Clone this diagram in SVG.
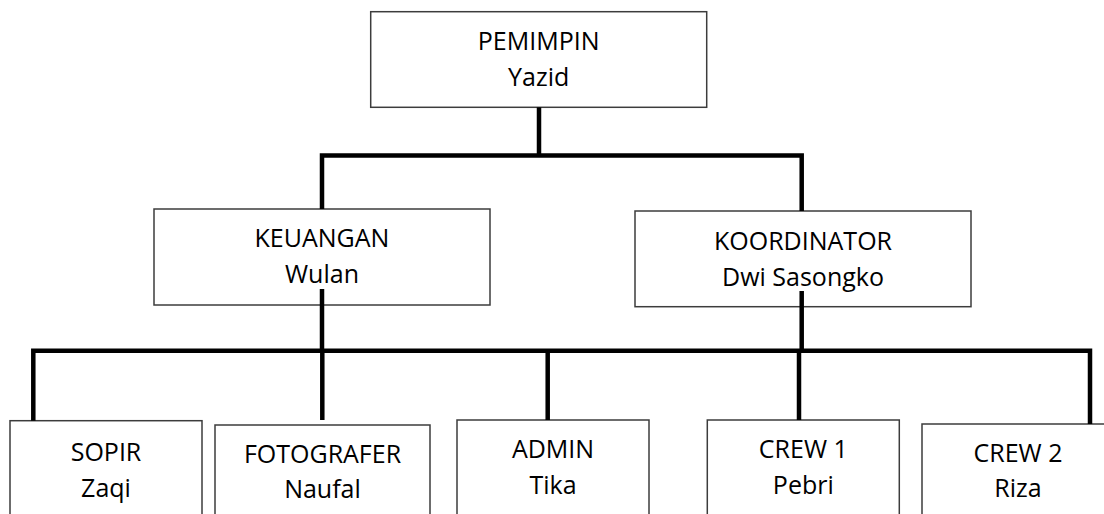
<svg xmlns="http://www.w3.org/2000/svg" width="1104" height="514" viewBox="0 0 1104 514">
<style>
.box{fill:#ffffff;stroke:#3c3c3c;stroke-width:1.5}
.t{font-family:"Open Sans","Noto Sans",sans-serif;font-size:25px;fill:#000000;text-anchor:middle}
.c{fill:none;stroke:#000000;stroke-width:4.5;stroke-linejoin:miter;stroke-linecap:butt}
</style>
<rect width="1104" height="514" fill="#ffffff"/>
<g id="pemimpin"><rect class="box" x="370.7" y="11.7" width="336" height="95.6"/><text class="t" x="538.7" y="50">PEMIMPIN</text><text class="t" x="538.7" y="86">Yazid</text></g>
<g id="keuangan"><rect class="box" x="154" y="209" width="336" height="96"/><text class="t" x="322" y="246.7">KEUANGAN</text><text class="t" x="322" y="282.7">Wulan</text></g>
<g id="koordinator"><rect class="box" x="635" y="211" width="336" height="95.7"/><text class="t" x="803" y="250">KOORDINATOR</text><text class="t" x="803" y="285.5">Dwi Sasongko</text></g>
<g id="sopir"><rect class="box" x="10" y="420.7" width="192" height="100"/><text class="t" x="106" y="460.7">SOPIR</text><text class="t" x="106" y="496.7">Zaqi</text></g>
<g id="fotografer"><rect class="box" x="215" y="425" width="215" height="100"/><text class="t" x="322.5" y="463.3">FOTOGRAFER</text><text class="t" x="322.5" y="498.3">Naufal</text></g>
<g id="admin"><rect class="box" x="457" y="420" width="192" height="100"/><text class="t" x="553" y="457.7">ADMIN</text><text class="t" x="553" y="494">Tika</text></g>
<g id="crew1"><rect class="box" x="707.3" y="420" width="192" height="100"/><text class="t" x="803.3" y="458.3">CREW 1</text><text class="t" x="803.3" y="494">Pebri</text></g>
<g id="crew2"><rect class="box" x="922" y="424" width="192" height="100"/><text class="t" x="1018" y="461.7">CREW 2</text><text class="t" x="1018" y="496.7">Riza</text></g>
<g id="connectors">
<path class="c" d="M539,107.3 V155.5"/>
<path class="c" d="M322,209 V155.5 H801.7 V211"/>
<path class="c" d="M322,289 V350.7"/>
<path class="c" d="M801.7,291 V350.7"/>
<path class="c" d="M33.3,420.7 V350.7 H1090 V424"/>
<path class="c" d="M322.3,350.7 V420"/>
<path class="c" d="M547.7,350.7 V420"/>
<path class="c" d="M799,350.7 V420"/>
</g>
</svg>
